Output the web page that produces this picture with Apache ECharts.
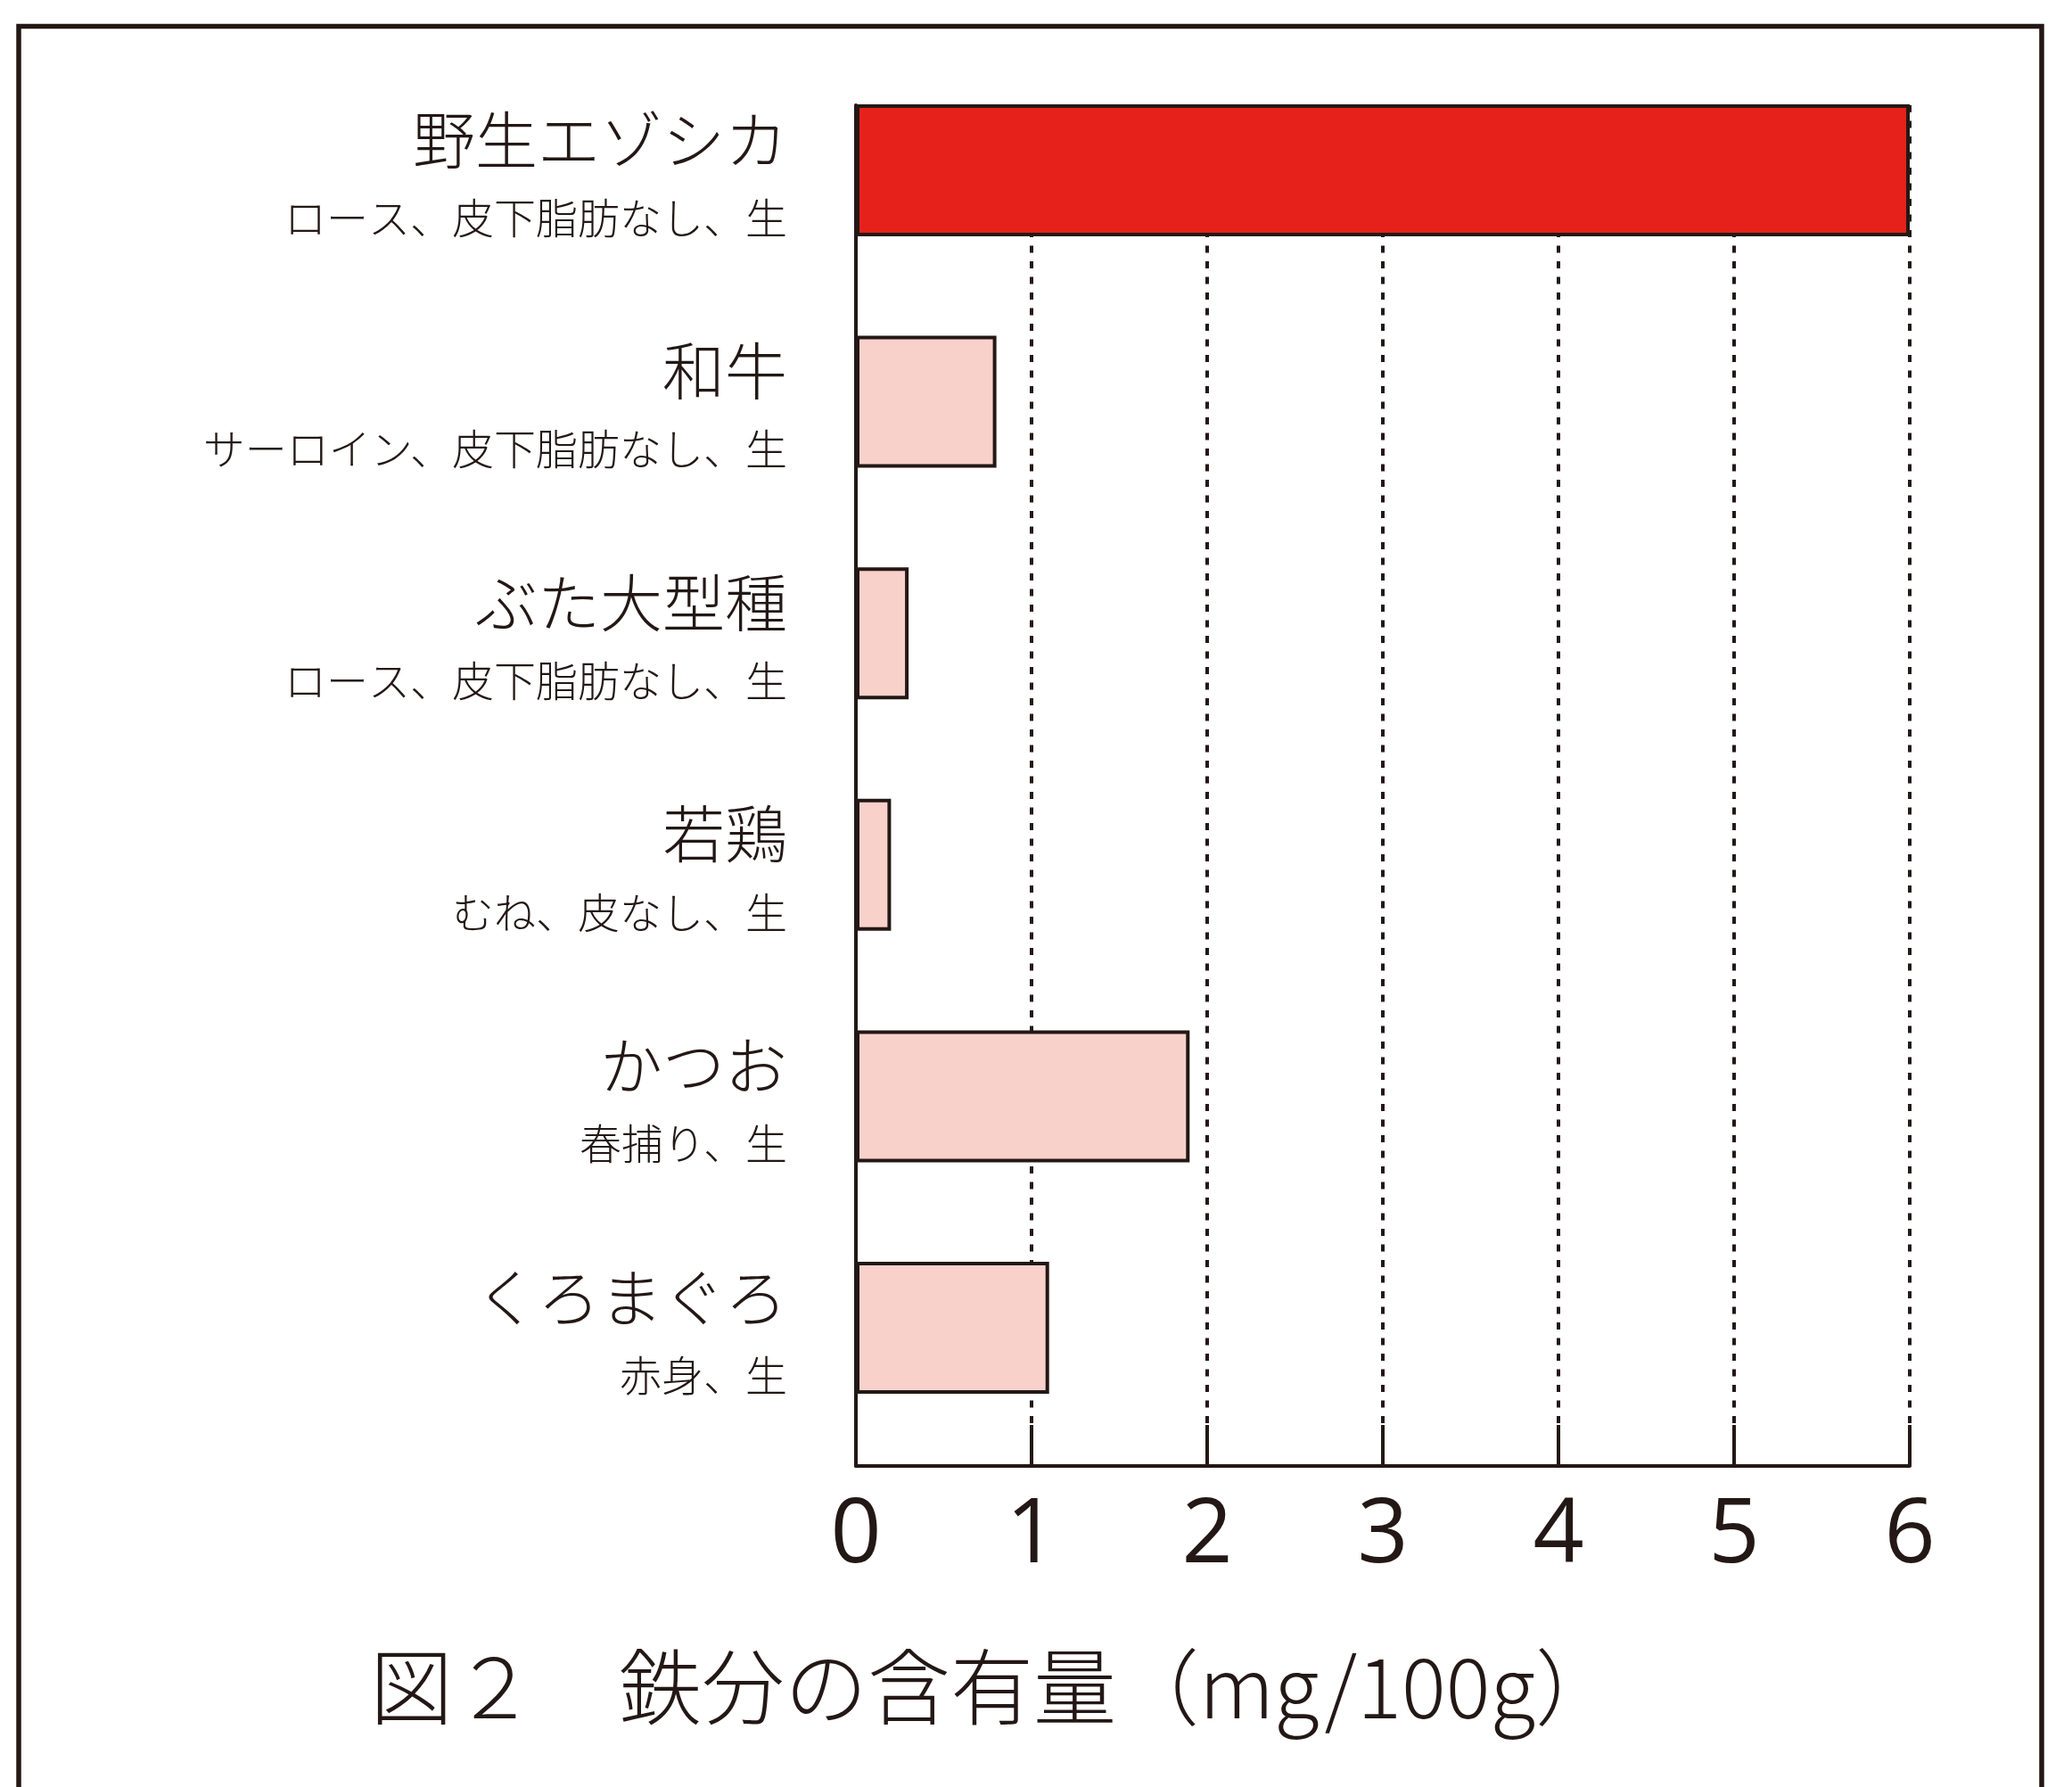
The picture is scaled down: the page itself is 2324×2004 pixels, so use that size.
<!DOCTYPE html>
<html>
<head>
<meta charset="utf-8">
<script src="https://cdn.jsdelivr.net/npm/echarts@6/dist/echarts.min.js"></script>
<style>
  html, body { margin: 0; padding: 0; background: #ffffff; }
  #chart { width: 2324px; height: 2004px; }
</style>
</head>
<body>
<div id="chart"></div>
<script>
// ---- data ----
const names = ['野生エゾシカ', '和牛', 'ぶた大型種', '若鶏', 'かつお', 'くろまぐろ'];
const subNames = ['ロース、皮下脂肪なし、生', 'サーロイン、皮下脂肪なし、生', 'ロース、皮下脂肪なし、生', 'むね、皮なし、生', '春捕り、生', '赤身、生'];
const ironValues = [6.0, 0.8, 0.3, 0.2, 1.9, 1.1];
const xTicks = [0, 1, 2, 3, 4, 5, 6];
const titleText = '図２　鉄分の含有量（mg/100g）';

// ---- styles ----
const INK = '#231815';
const RED = '#E6211B';
const PINK = '#F8D1CB';
const JP = '"Noto Sans CJK JP", "Noto Sans", sans-serif';

const chart = echarts.init(document.getElementById('chart'), null, { renderer: 'canvas' });

const plotLeft = 960, plotWidth = 1182;

const option = {
  backgroundColor: '#ffffff',
  animation: false,
  title: {
    text: titleText,
    left: 410,
    top: 1840,
    textStyle: { fontFamily: JP, fontSize: 93, fontWeight: 300, color: INK, lineHeight: 93 }
  },
  graphic: [{
    type: 'rect',
    shape: { x: 21, y: 29.5, width: 2269, height: 2100 },
    style: { fill: 'none', stroke: INK, lineWidth: 5.5 },
    z: 0
  }],
  grid: [
    { left: plotLeft, width: plotWidth, top: 61.2, height: 1557.6, containLabel: false },
    { left: plotLeft, width: plotWidth, top: 118, height: 1526, containLabel: false }
  ],
  xAxis: [
    { gridIndex: 0, type: 'value', min: 0, max: 6, interval: 1, show: false },
    {
      gridIndex: 1, type: 'value', min: xTicks[0], max: xTicks[xTicks.length - 1], interval: 1,
      axisLine: { show: true, lineStyle: { color: INK, width: 4 } },
      axisTick: { show: true, inside: true, length: 46, lineStyle: { color: INK, width: 4 } },
      splitLine: { show: true, lineStyle: { color: INK, width: 4, type: [8, 9.5] } },
      axisLabel: {
        show: true, margin: 30, color: INK, fontSize: 100, lineHeight: 100,
        fontFamily: '"Open Sans", "Noto Sans", sans-serif',
        formatter: v => String(v)
      }
    }
  ],
  yAxis: [
    {
      gridIndex: 0, type: 'category', data: names, inverse: true,
      axisLine: { show: false }, axisTick: { show: false }, splitLine: { show: false },
      axisLabel: {
        margin: 77,
        align: 'right',
        formatter: (value, idx) => '{a|' + value + '}\n{b|' + subNames[idx] + '}',
        rich: {
          a: { fontFamily: JP, fontSize: 70, fontWeight: 300, lineHeight: 106, color: INK, align: 'right' },
          b: { fontFamily: JP, fontSize: 47, fontWeight: 300, lineHeight: 68, color: INK, align: 'right' }
        }
      }
    },
    {
      gridIndex: 1, type: 'value', min: 0, max: 1,
      axisLine: { show: true, onZero: false, lineStyle: { color: INK, width: 4 } },
      axisTick: { show: false }, axisLabel: { show: false }, splitLine: { show: false }
    }
  ],
  series: [{
    type: 'bar',
    xAxisIndex: 0, yAxisIndex: 0,
    barWidth: 148,
    data: ironValues.map((v, i) => ({
      value: v,
      itemStyle: { color: i === 0 ? RED : PINK }
    })),
    itemStyle: { borderColor: INK, borderWidth: 4 },
    z: 5
  }]
};

chart.setOption(option);
</script>
</body>
</html>
